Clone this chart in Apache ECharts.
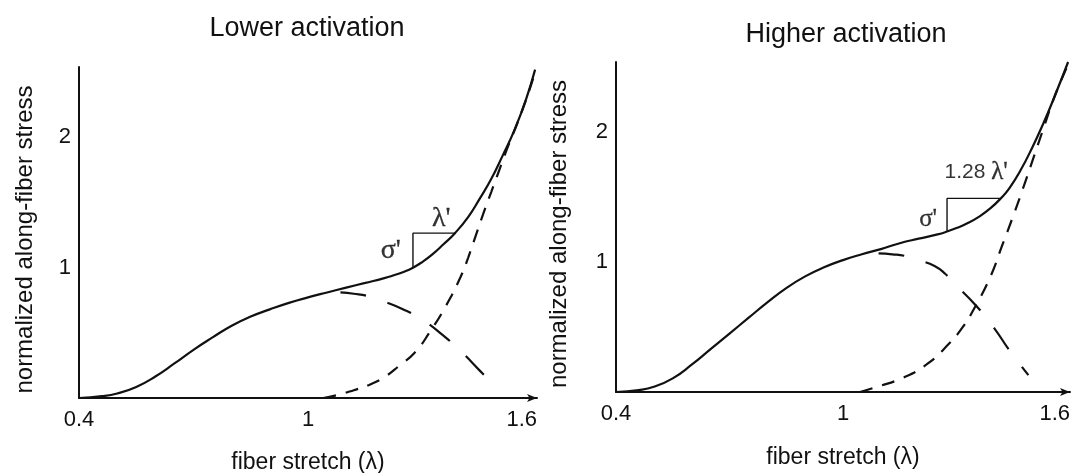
<!DOCTYPE html>
<html>
<head>
<meta charset="utf-8">
<script src="https://cdn.jsdelivr.net/npm/echarts@6/dist/echarts.min.js"></script>
<style>
  html, body { margin: 0; padding: 0; background: #fff; }
  #chart { width: 1075px; height: 473px; }
</style>
</head>
<body>
<div id="chart"></div>
<script>
// Axis ticks
const stretchTicks = [0.4, 1, 1.6];
const stressTicks = [1, 2];
const panelTitles = ['Lower activation', 'Higher activation'];

// Lower activation: [fiber stretch, normalized stress]
const lowTotal = [[0.40,0],[0.46,0.014],[0.50,0.035],[0.55,0.085],[0.60,0.165],[0.65,0.265],[0.70,0.37],
  [0.75,0.465],[0.80,0.555],[0.85,0.625],[0.90,0.68],[0.95,0.73],[1.00,0.772],[1.05,0.81],[1.10,0.847],
  [1.15,0.883],[1.20,0.92],[1.225,0.942],[1.25,0.967],[1.275,1.0],[1.30,1.045],[1.325,1.10],[1.355,1.18],
  [1.385,1.265],[1.42,1.39],[1.45,1.53],[1.48,1.68],[1.51,1.86],[1.54,2.05],[1.57,2.28],[1.595,2.52]];
const lowActive = [[1.085,0.81],[1.12,0.80],[1.16,0.78],[1.20,0.74],[1.25,0.68],[1.30,0.60],
  [1.35,0.49],[1.40,0.36],[1.45,0.21],[1.49,0.09]];
const lowPassive = [[1.04,0],[1.08,0.025],[1.12,0.06],[1.16,0.10],[1.20,0.16],[1.24,0.25],[1.28,0.35],
  [1.32,0.51],[1.36,0.70],[1.40,0.93],[1.42,1.08],[1.44,1.25],[1.46,1.42],[1.48,1.58],[1.50,1.74],
  [1.52,1.90],[1.55,2.12],[1.575,2.32],[1.595,2.50]];
const lowSlope = [[1.275,1.0],[1.275,1.265],[1.385,1.265]];

// Higher activation
const highTotal = [[0.40,0],[0.46,0.015],[0.50,0.04],[0.55,0.105],[0.60,0.21],[0.65,0.33],[0.70,0.45],
  [0.75,0.57],[0.80,0.69],[0.85,0.80],[0.90,0.89],[0.95,0.96],[1.00,1.015],[1.05,1.06],[1.10,1.10],
  [1.15,1.145],[1.20,1.18],[1.25,1.213],[1.275,1.235],[1.30,1.262],[1.33,1.30],[1.36,1.35],[1.39,1.415],
  [1.417,1.49],[1.44,1.57],[1.47,1.71],[1.50,1.88],[1.53,2.07],[1.56,2.28],[1.595,2.54]];
const highActive = [[1.094,1.067],[1.13,1.06],[1.166,1.046],[1.20,1.015],[1.242,0.97],[1.27,0.91],
  [1.296,0.83],[1.35,0.67],[1.40,0.49],[1.44,0.32],[1.49,0.13]];
const highPassive = [[1.045,0],[1.09,0.04],[1.157,0.108],[1.22,0.21],[1.278,0.365],[1.318,0.506],
  [1.35,0.66],[1.39,0.89],[1.421,1.13],[1.448,1.34],[1.475,1.56],[1.502,1.79],[1.53,2.03],[1.56,2.28],
  [1.595,2.52]];
const highSlope = [[1.275,1.235],[1.275,1.49],[1.417,1.49]];

// Slope annotations: [stretch, stress, text]
const lowNotes = [[1.349,1.38,'lam'],[1.217,1.13,'sig']];
const highNotes = [[1.352,1.69,'lam128'],[1.225,1.33,'sig']];

const INK = '#111';
const SANS = 'Liberation Sans, Arial, Helvetica, sans-serif';
const SERIF = 'Liberation Serif, Times New Roman, serif';

function xAxisFor(i) {
  return {
    type: 'value', gridIndex: i, min: 0.4, max: 1.6,
    axisLine: { show: true, onZero: false, lineStyle: { color: INK, width: 2 },
      symbol: ['none', 'arrow'], symbolSize: [6, 10] },
    axisTick: { show: false }, splitLine: { show: false },
    axisLabel: { customValues: stretchTicks, color: INK, fontSize: 22, fontFamily: SANS,
      margin: 11, alignMaxLabel: 'right', formatter: v => String(v) },
    name: 'fiber stretch (λ)', nameLocation: 'middle', nameGap: i === 0 ? 53 : 54,
    nameTextStyle: { color: INK, fontSize: 23, fontFamily: SANS }
  };
}
function yAxisFor(i) {
  return {
    type: 'value', gridIndex: i, min: 0, max: 2.54,
    axisLine: { show: true, onZero: false, lineStyle: { color: INK, width: 2 } },
    axisTick: { show: false }, splitLine: { show: false },
    axisLabel: { customValues: stressTicks, color: INK, fontSize: 22, fontFamily: SANS, margin: 8 },
    name: 'normalized along-fiber stress', nameLocation: 'middle', nameGap: i === 0 ? 42 : 45,
    nameTextStyle: { color: INK, fontSize: 24, fontFamily: SANS, padding: [0, 14, 0, 0] }
  };
}
function curve(data, i, dash) {
  return {
    type: 'line', xAxisIndex: i, yAxisIndex: i, data: data, showSymbol: false,
    smooth: 0.5, silent: true,
    lineStyle: { color: INK, width: 2.2, type: dash || 'solid' }
  };
}
function slope(data, i) {
  return {
    type: 'line', xAxisIndex: i, yAxisIndex: i, data: data, showSymbol: false, silent: true,
    lineStyle: { color: INK, width: 1.4 }
  };
}
function notes(data, i, size) {
  return {
    type: 'scatter', xAxisIndex: i, yAxisIndex: i, silent: true, symbolSize: 1,
    itemStyle: { color: 'rgba(0,0,0,0)' },
    data: data.map(d => ({ value: [d[0], d[1]], kind: d[2] })),
    label: {
      show: true, position: 'inside', color: INK,
      formatter: p => p.data.kind === 'lam' ? "{s|λ'}" : p.data.kind === 'sig' ? "{s|σ'}" : "{n|1.28 }{s|λ'}",
      rich: {
        s: { fontFamily: SERIF, fontSize: size, color: '#000', textBorderColor: '#000', textBorderWidth: 0.3 },
        n: { fontFamily: SANS, fontSize: 21, color: '#000' }
      }
    }
  };
}

const chart = echarts.init(document.getElementById('chart'), null, { renderer: 'canvas' });
chart.setOption({
  animation: false,
  backgroundColor: '#fff',
  title: [
    { text: panelTitles[0], left: 307, top: 15, padding: 0, textAlign: 'center',
      textStyle: { color: INK, fontSize: 27, fontWeight: 'normal', fontFamily: SANS } },
    { text: panelTitles[1], left: 846, top: 21, padding: 0, textAlign: 'center',
      textStyle: { color: INK, fontSize: 27, fontWeight: 'normal', fontFamily: SANS } }
  ],
  grid: [
    { left: 79, top: 67, width: 458, height: 331, containLabel: false, outerBoundsMode: 'none' },
    { left: 616, top: 62, width: 454, height: 330, containLabel: false, outerBoundsMode: 'none' }
  ],
  xAxis: [xAxisFor(0), xAxisFor(1)],
  yAxis: [yAxisFor(0), yAxisFor(1)],
  series: [
    curve(lowTotal, 0),
    curve(lowActive, 0, [26, 22]),
    curve(lowPassive, 0, [13, 10]),
    slope(lowSlope, 0),
    notes(lowNotes, 0, 28),
    curve(highTotal, 1),
    curve(highActive, 1, [26, 22]),
    curve(highPassive, 1, [13, 10]),
    slope(highSlope, 1),
    notes(highNotes, 1, 25)
  ]
});
</script>
</body>
</html>
